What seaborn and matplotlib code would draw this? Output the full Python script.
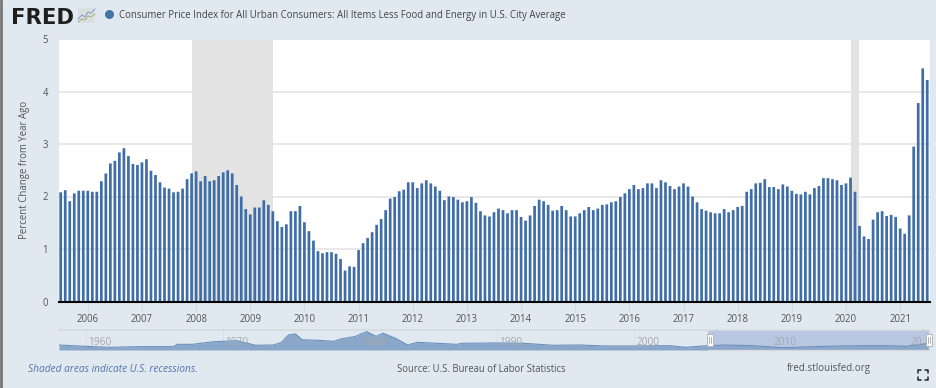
import matplotlib
matplotlib.use('Agg')
import matplotlib.pyplot as plt
import pandas as pd
import seaborn as sns

W, H = 936, 388
BG = '#e1e9f0'
BLUE = '#3f6da8'
GREY_TEXT = '#555555'

# percent change from year ago, monthly from Jul 2005
cpi_values = [
    2.08, 2.12, 1.91, 2.06, 2.11, 2.11, 2.11, 2.09, 2.09, 2.29, 2.44, 2.63,
    2.68, 2.84, 2.92, 2.77, 2.62, 2.60, 2.65, 2.71, 2.49, 2.41, 2.27, 2.17,
    2.15, 2.08, 2.09, 2.15, 2.33, 2.44, 2.48, 2.29, 2.39, 2.29, 2.31, 2.39,
    2.46, 2.50, 2.44, 2.22, 2.00, 1.76, 1.66, 1.79, 1.79, 1.93, 1.84, 1.72,
    1.53, 1.42, 1.47, 1.72, 1.72, 1.82, 1.51, 1.34, 1.16, 0.96, 0.92, 0.94,
    0.94, 0.91, 0.81, 0.59, 0.67, 0.66, 0.98, 1.11, 1.21, 1.32, 1.46, 1.57,
    1.74, 1.96, 1.99, 2.10, 2.13, 2.27, 2.27, 2.16, 2.25, 2.31, 2.25, 2.19,
    2.11, 1.93, 2.00, 1.99, 1.94, 1.89, 1.91, 1.99, 1.88, 1.72, 1.64, 1.62,
    1.70, 1.77, 1.74, 1.68, 1.74, 1.74, 1.61, 1.54, 1.64, 1.82, 1.94, 1.91,
    1.84, 1.73, 1.74, 1.82, 1.74, 1.62, 1.62, 1.68, 1.74, 1.80, 1.74, 1.77,
    1.84, 1.85, 1.89, 1.91, 1.99, 2.06, 2.14, 2.22, 2.14, 2.16, 2.25, 2.25,
    2.16, 2.31, 2.27, 2.20, 2.14, 2.19, 2.25, 2.19, 2.00, 1.89, 1.76, 1.73,
    1.70, 1.68, 1.68, 1.76, 1.70, 1.74, 1.80, 1.82, 2.09, 2.14, 2.25, 2.26,
    2.33, 2.18, 2.18, 2.14, 2.23, 2.19, 2.11, 2.05, 2.04, 2.09, 2.04, 2.16,
    2.20, 2.35, 2.35, 2.33, 2.31, 2.22, 2.25, 2.36, 2.09, 1.44, 1.24, 1.19,
    1.56, 1.70, 1.72, 1.63, 1.65, 1.61, 1.39, 1.29, 1.64, 2.95, 3.78, 4.44,
    4.22,
]
months = pd.date_range('2005-07-01', periods=len(cpi_values), freq='MS')
recessions = [('2007-12-01', '2009-06-01'), ('2020-02-01', '2020-04-01')]
year_labels = list(range(2006, 2022))
y_ticks = [0, 1, 2, 3, 4, 5]

# overview strip under the chart, rough long history
nav_years = [1958.05, 1960.0, 1961.8, 1964.0, 1966.4, 1966.7, 1967.8, 1969.3, 1971.0, 1971.8,
             1972.4, 1973.7, 1974.3, 1974.8, 1975.3, 1975.8, 1976.9, 1978.1, 1978.6, 1979.7,
             1980.5, 1981.2, 1981.7, 1982.6, 1983.5, 1984.2, 1987.1, 1987.5, 1990.0, 1991.9,
             1994.1, 1996.1, 1997.8, 2000.2, 2002.6, 2003.8, 2005.4, 2006.7, 2008.7, 2010.9,
             2013.8, 2016.7, 2018.6, 2019.9, 2021.3, 2021.5]
nav_values = [3.7, 2.7, 2.0, 2.5, 2.5, 4.2, 4.2, 6.1, 6.9, 5.0,
              3.5, 3.7, 5.7, 11.1, 11.9, 7.6, 7.2, 6.4, 8.1, 10.1,
              13.6, 10.1, 12.4, 8.7, 3.7, 5.7, 4.2, 5.0, 5.2, 5.0,
              3.5, 3.7, 3.0, 3.0, 3.2, 2.0, 3.2, 3.7, 3.2, 1.7,
              2.7, 3.2, 3.2, 2.7, 4.7, 4.7]
nav_labels = [1960, 1970, 1980, 1990, 2000, 2010, 2020]

sns.set_theme(style='white')
plt.rcParams['font.family'] = ['Open Sans', 'DejaVu Sans']


def px_axes(fig, left, top, right, bottom):
    return fig.add_axes([left / W, 1 - bottom / H, (right - left) / W, (bottom - top) / H])


fig = plt.figure(figsize=(W / 100, H / 100), dpi=100, facecolor=BG)

# main chart
df = pd.DataFrame({'month': months.strftime('%Y-%m'), 'value': cpi_values})
ax = px_axes(fig, 59, 39, 929.5, 301.5)
ax.set_facecolor('white')
sns.barplot(data=df, x='month', y='value', color=BLUE, saturation=1, width=0.6, linewidth=0, ax=ax, zorder=3)
for bar in ax.patches:
    bar.set_snap(False)
ax.set_xlim(-0.38, 192.5)
ax.set_ylim(0, 5)

for start, end in recessions:
    ax.axvspan(months.get_loc(start) + 0.1, months.get_loc(end) - 0.05, color='#e3e3e3', lw=0, zorder=2)

ax.set_yticks(y_ticks)
ax.set_yticklabels([str(v) for v in y_ticks], fontsize=6.9, color=GREY_TEXT)
ax.yaxis.grid(True, color='#e6e6e6', lw=1.3, zorder=1)
ax.set_axisbelow(True)
ax.tick_params(axis='y', length=0, pad=8)

jan_pos = [months.get_loc(f'{y}-01-01') for y in year_labels]
ax.set_xticks(jan_pos)
ax.set_xticklabels([str(y) for y in year_labels], fontsize=6.9, color=GREY_TEXT)
ax.tick_params(axis='x', length=7, width=0.8, color='#cfdbe6', pad=2, bottom=True)
for side in ['top', 'left', 'right']:
    ax.spines[side].set_visible(False)
ax.spines['bottom'].set_color('black')
ax.spines['bottom'].set_linewidth(1.5)
ax.spines['bottom'].set_zorder(5)
ax.set_xlabel('')
ax.set_ylabel('Percent Change from Year Ago', fontsize=6.9, color=GREY_TEXT, labelpad=0)
ax.yaxis.set_label_coords((30 - 59) / 870.5, 0.5)

# overview strip
nav = px_axes(fig, 59, 330, 929, 350)
nav.set_facecolor('none')
nav.set_xlim(1958.05, 2021.55)
nav.set_ylim(0, 14.8)
nav.axvspan(months[0].year + 0.45, 2021.55, color='#b9c8e2', lw=0, zorder=1)
nav.fill_between(nav_years, nav_values, color='#8aa6c9', lw=0, zorder=2)
sns.lineplot(x=nav_years, y=nav_values, color='#6b8fbc', lw=0.8, ax=nav, zorder=3, estimator=None)
nav.set_xticks(nav_labels)
nav.tick_params(axis='x', length=0, labelbottom=False)
nav.set_yticks([])
nav.set_xlabel('')
nav.set_ylabel('')
for x_year in nav_labels:
    nav.axvline(x_year, color='#d5dee6', lw=0.6, zorder=0)
    label = '20' if x_year == 2020 else str(x_year)
    nav.text(x_year + 0.2, 1.2, label, fontsize=7.3, color='#a3a8ad', ha='left', va='bottom', zorder=4)
for side in nav.spines.values():
    side.set_visible(False)

# page furniture drawn in pixel coordinates
over = fig.add_axes([0, 0, 1, 1], facecolor='none')
over.set_xlim(0, W)
over.set_ylim(H, 0)
over.axis('off')
over.plot([59, 929], [329.5, 329.5], color='#d6dade', lw=1.2)
over.plot([708, 929], [350.3, 350.3], color='#d6dade', lw=1.0)
over.plot([929, 929], [329.5, 350.3], color='#d6dade', lw=1.0)
over.plot([1, 1], [0, H], color='#777777', lw=2)

# logo
over.text(11, 23.5, 'FRED', fontfamily='DejaVu Sans', fontweight='bold', fontsize=15.2, color='#1e1e1e',
          ha='left', va='baseline')
over.add_patch(plt.Rectangle((78, 8), 17, 15, color='#dcdfe2', lw=0))
over.plot([78, 82, 85, 88, 91, 95], [19, 15, 17, 12, 13, 9], color='#8ba3c7', lw=0.8)
over.plot([78, 82, 85, 88, 91, 95], [22, 19, 20, 16, 17, 14], color='#9dbb84', lw=0.8)

# legend
over.scatter([109], [14], s=42, color='#4572a7', lw=0)
over.text(119, 15.5, 'Consumer Price Index for All Urban Consumers: All Items Less Food and Energy in U.S. City Average',
          fontsize=6.9, color='#444444', va='center', ha='left')

# footer
over.text(28, 369, 'Shaded areas indicate U.S. recessions.', fontsize=7.3, style='italic', color='#4f75ad',
          va='center', ha='left')
over.text(397, 369, 'Source: U.S. Bureau of Labor Statistics', fontsize=6.85, color=GREY_TEXT, va='center', ha='left')
over.text(787, 369, 'fred.stlouisfed.org', fontsize=7.0, color=GREY_TEXT, va='center', ha='left')

# navigator handles
for hx in (709.5, 929):
    over.add_patch(plt.Rectangle((hx - 3, 334), 6, 12, facecolor='white', edgecolor='#b0b5ba', lw=0.7, zorder=6))
    over.plot([hx - 1, hx - 1], [337, 343], color='#8a8f94', lw=0.5, zorder=7)
    over.plot([hx + 1, hx + 1], [337, 343], color='#8a8f94', lw=0.5, zorder=7)

# fullscreen icon
for cx, cy, dx, dy in [(918, 370, 1, 1), (928, 370, -1, 1), (918, 380, 1, -1), (928, 380, -1, -1)]:
    over.plot([cx + 3 * dx, cx, cx], [cy, cy, cy + 3 * dy], color='#222222', lw=1.1)

fig.savefig('out.png', dpi=100, facecolor=BG)
